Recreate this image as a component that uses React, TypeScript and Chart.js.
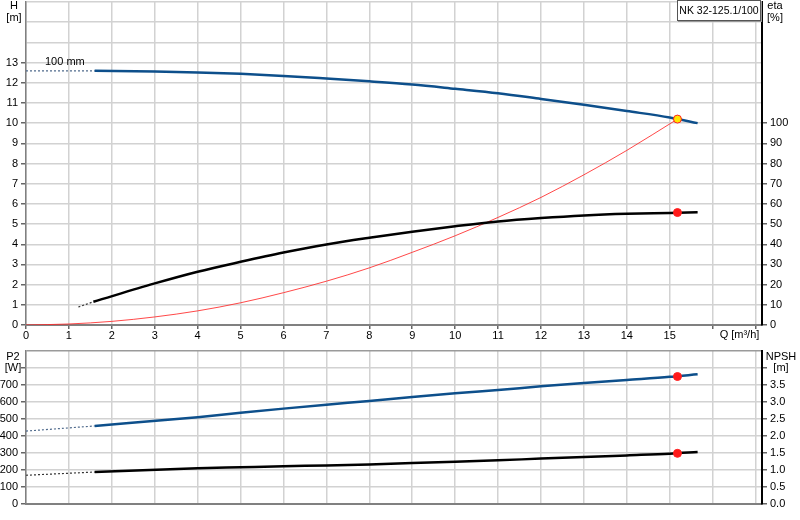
import React, { useEffect, useRef } from 'react';
import Chart from 'chart.js/auto';

Chart.defaults.font.family = '"Liberation Sans", Arial, sans-serif';
Chart.defaults.font.size = 11;
Chart.defaults.color = '#000';

// Q [m³/h] and H [m] of the pump curve
const headFlow = [1.6, 3, 4, 5, 6, 7, 8, 9, 10, 11, 12, 13, 14, 15, 15.65];
const headValues = [12.59, 12.56, 12.51, 12.44, 12.34, 12.21, 12.07, 11.91, 11.7, 11.48, 11.2, 10.91, 10.6, 10.28, 10.0];
const headExtFlow = [0, 1.6];
const headExtValues = [12.59, 12.59];

// efficiency [%]
const etaFlow = [1.57, 3, 4, 5, 6, 7, 8, 9, 10, 11, 12, 13, 14, 15, 15.65];
const etaValues = [11.5, 20.6, 26.4, 31.3, 35.9, 39.9, 43.2, 46.2, 48.9, 51.3, 53.0, 54.3, 55.1, 55.5, 55.8];
const etaExtFlow = [1.22, 1.57];
const etaExtValues = [8.9, 11.5];

// system curve
const systemFlow = [0, 1, 2, 3, 4, 5, 6, 7, 8, 9, 10, 11, 12, 13, 14, 15.18];
const systemHead = [0, 0.05, 0.18, 0.4, 0.7, 1.1, 1.6, 2.17, 2.83, 3.6, 4.42, 5.33, 6.32, 7.44, 8.65, 10.2];

// P2 [W] and NPSH [m]
const lowerFlow = [1.6, 4, 5, 6, 7, 8, 9, 10, 11, 12, 13, 14, 15, 15.65];
const p2Values = [459, 511, 537, 561, 584, 606, 629, 651, 671, 692, 712, 730, 748, 763];
const p2ExtFlow = [0, 1.6];
const p2ExtValues = [429, 459];
const npshValues = [0.94, 1.05, 1.08, 1.11, 1.135, 1.165, 1.205, 1.245, 1.285, 1.335, 1.38, 1.43, 1.48, 1.53];
const npshExtFlow = [0, 1.6];
const npshExtValues = [0.845, 0.94];

// duty point
const dutyFlow = 15.18;
const dutyHead = 10.2;
const dutyEta = 55.7;
const dutyP2 = 750;
const dutyNpsh = 1.49;

const pts = (xs: number[], ys: number[]) => xs.map((x, i) => ({ x, y: ys[i] }));

const GRID = '#d2d2d2';
const BLUE = '#0d4f8b';

const xScale = (height: number, labels: boolean) => ({
  type: 'linear' as const,
  min: 0,
  max: 17.15,
  ticks: {
    stepSize: 1,
    includeBounds: false,
    autoSkip: false,
    maxRotation: 0,
    padding: 0,
    display: labels,
    callback: (v: any) => (v <= 15 ? String(v) : ''),
  },
  grid: { color: GRID, lineWidth: 1.5, tickLength: 4, tickColor: '#666', drawTicks: labels },
  border: { color: '#808080', width: 2 },
  afterFit: (s: any) => {
    s.height = height;
    s.paddingLeft = 0;
    s.paddingRight = 0;
  },
});

const yScale = (
  position: 'left' | 'right',
  max: number,
  step: number,
  labelMax: number,
  tickMax: number,
  fmt: (v: number) => string,
  onArea: boolean,
  topLine: string
) => ({
  type: 'linear' as const,
  position,
  min: 0,
  max,
  ticks: {
    stepSize: step,
    padding: 3,
    autoSkip: false,
    callback: (v: any) => (v <= labelMax + 1e-9 ? fmt(v) : ''),
  },
  grid: {
    drawOnChartArea: onArea,
    lineWidth: 1.5,
    color: (ctx: any) => (ctx.tick && Math.abs(ctx.tick.value - max) < 1e-9 ? topLine : GRID),
    tickLength: 5,
    tickColor: (ctx: any) => (ctx.tick && ctx.tick.value <= tickMax + 1e-9 ? '#666' : 'rgba(0,0,0,0)'),
  },
  border: position === 'left' ? { color: '#808080', width: 1.5 } : { color: '#000', width: 2 },
  afterFit: (s: any) => {
    s.width = position === 'left' ? 26 : 38;
    s.paddingTop = 0;
    s.paddingBottom = 0;
  },
});

const line = (data: any[], color: string, width: number, yAxisID: string, dash?: number[]) => ({
  type: 'line' as const,
  data,
  borderColor: color,
  borderWidth: width,
  borderDash: dash || [],
  pointRadius: 0,
  fill: false,
  cubicInterpolationMode: 'monotone' as const,
  yAxisID,
});

const marker = (x: number, y: number, fill: string, yAxisID: string) => ({
  type: 'line' as const,
  data: [{ x, y }],
  showLine: false,
  pointRadius: 4,
  pointBackgroundColor: fill,
  pointBorderColor: '#ff2020',
  pointBorderWidth: 1,
  yAxisID,
});

const UpperChart: React.FC = () => {
  const ref = useRef<HTMLCanvasElement | null>(null);
  useEffect(() => {
    if (!ref.current) return;
    const chart = new Chart(ref.current, {
      type: 'line',
      data: {
        datasets: [
          marker(dutyFlow, dutyHead, '#ffe600', 'y'),
          marker(dutyFlow, dutyEta, '#ff1a1a', 'eta'),
          line(pts(headFlow, headValues), BLUE, 2.5, 'y'),
          line(pts(headExtFlow, headExtValues), '#4f6a8c', 1.2, 'y', [2, 2]),
          line(pts(etaFlow, etaValues), '#000', 2.5, 'eta'),
          line(pts(etaExtFlow, etaExtValues), '#333', 1.2, 'eta', [2, 2]),
          line(pts(systemFlow, systemHead), 'rgba(255,40,40,0.85)', 1, 'y'),
        ] as any,
      },
      options: {
        animation: false,
        responsive: true,
        maintainAspectRatio: false,
        events: [],
        layout: { padding: 0 },
        plugins: { legend: { display: false }, tooltip: { enabled: false } },
        scales: {
          x: xScale(21, true),
          y: yScale('left', 16, 1, 13, 13, (v) => String(v), true, GRID),
          eta: yScale('right', 160, 10, 100, 100, (v) => String(v), false, GRID),
        } as any,
      },
    });
    return () => chart.destroy();
  }, []);
  return <canvas ref={ref} />;
};

const LowerChart: React.FC = () => {
  const ref = useRef<HTMLCanvasElement | null>(null);
  useEffect(() => {
    if (!ref.current) return;
    const chart = new Chart(ref.current, {
      type: 'line',
      data: {
        datasets: [
          marker(dutyFlow, dutyP2, '#ff1a1a', 'y'),
          marker(dutyFlow, dutyNpsh, '#ff1a1a', 'npsh'),
          line(pts(lowerFlow, p2Values), BLUE, 2.5, 'y'),
          line(pts(p2ExtFlow, p2ExtValues), '#4f6a8c', 1.2, 'y', [2, 2]),
          line(pts(lowerFlow, npshValues), '#000', 2.5, 'npsh'),
          line(pts(npshExtFlow, npshExtValues), '#333', 1.2, 'npsh', [2, 2]),
        ] as any,
      },
      options: {
        animation: false,
        responsive: true,
        maintainAspectRatio: false,
        events: [],
        layout: { padding: { top: 5, left: 0, right: 0, bottom: 0 } },
        plugins: { legend: { display: false }, tooltip: { enabled: false } },
        scales: {
          x: xScale(17, false),
          y: yScale('left', 900, 100, 700, 800, (v) => String(v), true, '#9a9a9a'),
          npsh: yScale('right', 4.5, 0.5, 3.5, 4.0, (v) => v.toFixed(1), false, '#9a9a9a'),
        } as any,
      },
    });
    return () => chart.destroy();
  }, []);
  return <canvas ref={ref} />;
};

const txt = (left: number, top: number, width: number, s: string, align: 'left' | 'center' = 'center') => (
  <div
    style={{
      position: 'absolute',
      left,
      top,
      width,
      textAlign: align,
      font: '11px "Liberation Sans", Arial, sans-serif',
      lineHeight: '12px',
      color: '#000',
      whiteSpace: 'nowrap',
    }}
  >
    {s}
  </div>
);

const App: React.FC = () => (
  <div style={{ position: 'fixed', left: 0, top: 0, width: 800, height: 520, background: '#fff', overflow: 'hidden' }}>
    <div style={{ position: 'absolute', left: 0, top: -3, width: 800, height: 349 }}>
      <UpperChart />
    </div>
    <div style={{ position: 'absolute', left: 0, top: 346, width: 800, height: 175 }}>
      <LowerChart />
    </div>
    {txt(0, -1, 28, 'H')}
    {txt(0, 11, 28, '[m]')}
    {txt(762, -1, 26, 'eta')}
    {txt(762, 11, 26, '[%]')}
    {txt(0, 350, 26, 'P2')}
    {txt(0, 361, 26, '[W]')}
    {txt(764, 350, 34, 'NPSH')}
    {txt(764, 361, 34, '[m]')}
    {txt(45, 55, 40, '100 mm', 'left')}
    {txt(717, 328, 45, 'Q [m³/h]')}
    <div
      style={{
        position: 'absolute',
        left: 677,
        top: 0,
        width: 82,
        height: 19,
        border: '1px solid #555',
        boxShadow: '1px 1px 0 #999',
        background: '#fff',
        font: '10.5px "Liberation Sans", Arial, sans-serif',
        lineHeight: '19px',
        textAlign: 'center',
        color: '#000',
        whiteSpace: 'nowrap',
      }}
    >
      NK 32-125.1/100
    </div>
  </div>
);

export default App;
